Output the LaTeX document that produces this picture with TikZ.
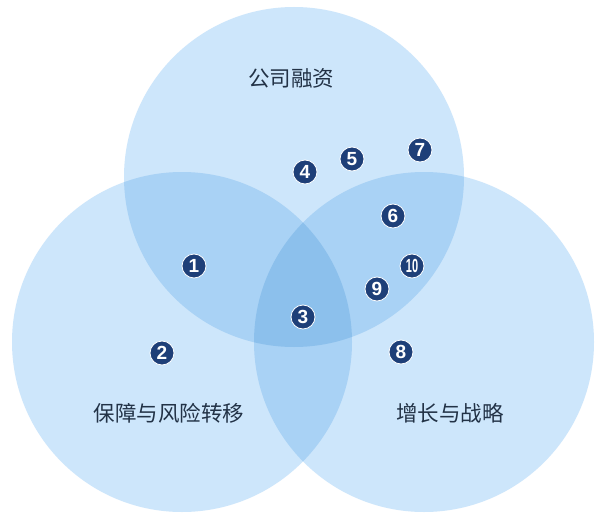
\documentclass[tikz,border=0pt]{standalone}
\usepackage{fontspec}
\setmainfont{Liberation Sans}
\newfontfamily\cjk{Noto Sans CJK SC}
\begin{document}
\definecolor{one}{RGB}{205,230,251}
\definecolor{two}{RGB}{169,210,245}
\definecolor{three}{RGB}{140,192,236}
\definecolor{navy}{RGB}{30,63,120}
\definecolor{labtxt}{RGB}{34,50,70}
\begin{tikzpicture}[x=1pt,y=-1pt,
  badge/.style={circle,fill=navy,draw=white,line width=0.8pt,minimum size=24pt,inner sep=0pt,
    text=white,font=\fontsize{19}{19}\selectfont\bfseries},
  setlabel/.style={text=labtxt,font=\cjk\fontsize{21.5}{21.5}\selectfont}]
\useasboundingbox[fill=white] (0,0) rectangle (600,519);
\def\R{170}
\coordinate (ct) at (294,177);
\coordinate (cl) at (182,342);
\coordinate (cr) at (424,342);
% single regions
\fill[one] (ct) circle (\R);
\fill[one] (cl) circle (\R);
\fill[one] (cr) circle (\R);
% pairwise
\begin{scope}\clip (ct) circle (\R); \fill[two] (cl) circle (\R); \end{scope}
\begin{scope}\clip (ct) circle (\R); \fill[two] (cr) circle (\R); \end{scope}
\begin{scope}\clip (cl) circle (\R); \fill[two] (cr) circle (\R); \end{scope}
% triple
\begin{scope}\clip (ct) circle (\R); \clip (cl) circle (\R); \fill[three] (cr) circle (\R); \end{scope}
% labels
\node[setlabel] (lt) at (291,78) {公司融资};
\node[setlabel] (ll) at (169,413) {保障与风险转移};
\node[setlabel] (lr) at (450,413) {增长与战略};
% badges
\node[badge] (b1) at (194,266) {1};
\node[badge] (b2) at (162,353) {2};
\node[badge] (b3) at (303,317) {3};
\node[badge] (b4) at (305,172) {4};
\node[badge] (b5) at (352,159) {5};
\node[badge] (b6) at (393,216) {6};
\node[badge] (b7) at (420,150) {7};
\node[badge] (b8) at (401,352) {8};
\node[badge] (b9) at (377,289) {9};
\node[badge] (b10) at (412,266) {\scalebox{0.58}[1]{10}};
\end{tikzpicture}
\end{document}
